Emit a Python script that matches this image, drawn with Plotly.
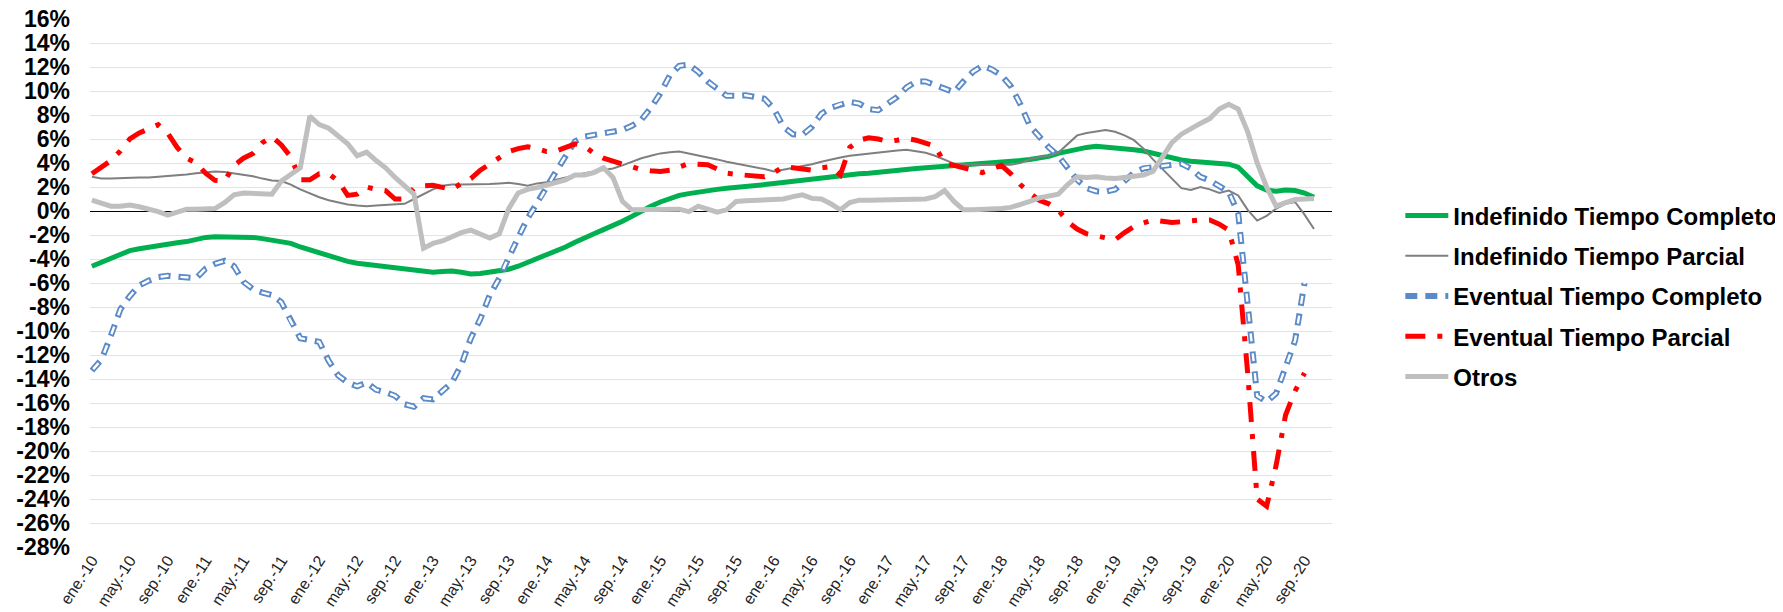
import plotly.graph_objects as go

MESES = ["ene.", "feb.", "mar.", "abr.", "may.", "jun.", "jul.", "ago.", "sep.", "oct.", "nov.", "dic."]
ANIOS = ["10", "11", "12", "13", "14", "15", "16", "17", "18", "19", "20"]
categorias = [f"{m}-{a}" for a in ANIOS for m in MESES][:130]
etiquetas_x = categorias[::4]

y_ticks = [-28, -26, -24, -22, -20, -18, -16, -14, -12, -10, -8, -6, -4, -2, 0, 2, 4, 6, 8, 10, 12, 14, 16]
y_text = ["-28%", "-26%", "-24%", "-22%", "-20%", "-18%", "-16%", "-14%", "-12%", "-10%", "-8%", "-6%",
          "-4%", "-2%", "0%", "2%", "4%", "6%", "8%", "10%", "12%", "14%", "16%"]

indef_completo = [
    -4.6, -4.3, -3.9, -3.6, -3.3, -3.15, -3.0, -2.9, -2.75, -2.65,
    -2.55, -2.35, -2.2, -2.15, -2.15, -2.2, -2.2, -2.2, -2.3, -2.4,
    -2.5, -2.7, -3.0, -3.25, -3.5, -3.8, -4.05, -4.2, -4.35, -4.45,
    -4.6, -4.7, -4.8, -4.9, -5.0, -5.05, -5.1, -5.05, -5.0, -5.1,
    -5.25, -5.2, -5.1, -5.0, -4.85, -4.6, -4.3, -4.0, -3.7, -3.35,
    -3.0, -2.6, -2.2, -1.9, -1.55, -1.25, -0.85, -0.45, 0.0, 0.4,
    0.75, 1.05, 1.3, 1.45, 1.6, 1.7, 1.8, 1.9, 1.95, 2.0,
    2.1, 2.2, 2.3, 2.4, 2.45, 2.55, 2.65, 2.75, 2.85, 2.95,
    3.0, 3.1, 3.15, 3.25, 3.35, 3.45, 3.5, 3.55, 3.6, 3.65,
    3.7, 3.75, 3.8, 3.85, 3.9, 4.0, 4.05, 4.1, 4.2, 4.3,
    4.4, 4.55, 4.8, 5.0, 5.2, 5.3, 5.4, 5.35, 5.25, 5.15,
    5.1, 5.0, 4.8, 4.6, 4.4, 4.25, 4.15, 4.1, 4.0, 3.95,
    3.9, 3.65, 2.9, 2.1, 1.75, 1.65, 1.75, 1.7, 1.5, 1.15,
]

indef_parcial = [
    2.85, 2.7, 2.7, 2.75, 2.8, 2.8, 2.8, 2.85, 2.95, 3.0,
    3.05, 3.15, 3.25, 3.3, 3.25, 3.15, 3.05, 2.9, 2.7, 2.55,
    2.5, 2.2, 1.8, 1.45, 1.15, 0.9, 0.7, 0.55, 0.45, 0.4,
    0.45, 0.5, 0.55, 0.6, 1.0, 1.4, 1.8, 2.1, 2.2, 2.2,
    2.2, 2.2, 2.25, 2.3, 2.35, 2.25, 2.1, 2.3, 2.4, 2.6,
    2.8, 3.0, 3.15, 3.3, 3.4, 3.55, 3.8, 4.1, 4.4, 4.6,
    4.8, 4.9, 4.95, 4.8, 4.65, 4.5, 4.3, 4.1, 3.95, 3.85,
    3.7, 3.5, 3.3, 3.45, 3.55, 3.7, 3.9, 4.1, 4.3, 4.45,
    4.6, 4.7, 4.8, 4.9, 4.95, 5.05, 5.1, 5.0, 4.85, 4.6,
    4.25, 3.95, 3.9, 3.85, 3.85, 3.85, 3.85, 3.85, 4.0, 4.3,
    4.5, 4.6, 4.85, 5.6, 6.3, 6.5, 6.65, 6.75, 6.6, 6.3,
    5.9, 5.2, 4.3, 3.5, 2.7, 1.9, 1.75, 2.0, 1.8, 1.5,
    1.7, 1.3, 0.1, -0.8, -0.4, 0.2, 0.6, 0.75, -0.3, -1.5,
]

event_completo = [
    -13.3, -12.4, -10.4, -8.2, -7.1, -6.2, -5.8, -5.5, -5.4, -5.45,
    -5.5, -5.6, -4.8, -4.4, -4.15, -4.6, -5.9, -6.5, -6.8, -7.0,
    -7.6, -9.2, -10.6, -10.75, -10.9, -12.5, -13.7, -14.3, -14.6, -14.3,
    -14.9, -15.1, -15.4, -16.1, -16.3, -15.6, -15.7, -15.0, -14.3, -12.8,
    -10.6, -9.0, -7.0, -5.6, -3.8, -2.2, -0.6, 0.6, 2.0, 3.3,
    4.6, 5.8, 6.2, 6.35, 6.5, 6.6, 6.75, 7.1, 7.6, 8.6,
    9.8, 11.3, 12.1, 12.2, 11.6, 10.8, 10.2, 9.6, 9.6, 9.65,
    9.5, 9.35, 8.5, 7.0, 6.4, 6.35, 7.0, 8.1, 8.6, 8.9,
    9.1, 8.95, 8.5, 8.4, 9.0, 9.5, 10.3, 10.8, 10.8, 10.5,
    10.2, 9.9, 10.8, 11.6, 12.1, 11.8, 11.3, 10.4, 8.9, 7.1,
    6.2, 5.3, 4.6, 3.6, 2.6, 1.9, 1.65, 1.6, 1.8, 2.5,
    3.2, 3.55, 3.7, 3.75, 3.85, 3.95, 3.55, 2.85, 2.55, 2.1,
    1.6, -0.2, -8.0, -15.4, -15.9, -15.2, -13.0, -10.8, -6.0,
]

event_parcial = [
    3.1, 3.6, 4.2, 5.0, 6.0, 6.5, 6.9, 7.2, 6.5, 5.3,
    4.4, 4.0, 3.15, 2.55, 2.5, 3.8, 4.4, 4.8, 5.7, 6.2,
    5.5, 4.5, 2.6, 2.6, 3.1, 3.1, 2.5, 1.3, 1.4, 2.0,
    1.8, 1.7, 1.0, 1.0, 1.9, 2.1, 2.15, 2.0, 1.8, 2.3,
    2.7, 3.4, 3.95, 4.5, 4.95, 5.2, 5.35, 5.2, 4.95, 5.0,
    5.35, 5.6, 5.4, 4.8, 4.4, 4.1, 3.9, 3.7, 3.45, 3.35,
    3.3, 3.4, 3.7, 3.95, 3.9, 3.85, 3.5, 3.15, 3.05, 3.0,
    2.95, 2.85, 3.2, 3.7, 3.6, 3.45, 3.4, 3.6, 3.7, 3.0,
    5.3, 5.9, 6.1, 6.0, 5.8, 5.9, 6.05, 5.9, 5.7, 5.4,
    4.0, 3.8, 3.7, 3.5, 3.2, 3.5, 3.8, 3.1, 2.2, 1.5,
    0.9, 0.6, 0.1, -0.9, -1.5, -1.9, -2.1, -2.3, -2.4, -1.8,
    -1.3, -1.0, -0.75, -0.85, -0.95, -0.9, -0.8, -0.75, -0.75, -1.1,
    -1.6, -4.5, -13.5, -24.0, -24.6, -21.2, -17.0, -15.0, -13.5,
]

otros = [
    0.9, 0.65, 0.4, 0.4, 0.5, 0.35, 0.2, -0.05, -0.35, -0.1,
    0.15, 0.15, 0.15, 0.2, 0.7, 1.35, 1.5, 1.45, 1.45, 1.4,
    2.5, 3.1, 3.6, 7.9, 7.2, 6.9, 6.3, 5.6, 4.6, 4.9,
    4.2, 3.6, 2.8, 2.1, 1.4, -3.1, -2.7, -2.5, -2.1, -1.8,
    -1.6, -1.9, -2.25, -1.9, 0.2, 1.5, 1.8, 1.95, 2.2, 2.4,
    2.6, 3.0, 3.0, 3.2, 3.6, 2.8, 0.8, 0.1, 0.1, 0.1,
    0.1, 0.15, 0.15, -0.05, 0.4, 0.15, -0.1, 0.1, 0.8, 0.85,
    0.9, 0.9, 0.9, 1.0, 1.2, 1.35, 1.05, 1.0, 0.6, 0.1,
    0.7, 0.9, 0.9, 0.9, 0.9, 0.9, 0.9, 0.9, 1.0, 1.2,
    1.7, 0.8, 0.1, 0.1, 0.1, 0.1, 0.2, 0.3, 0.5, 0.8,
    1.1, 1.2, 1.4, 2.2, 2.85, 2.8, 2.85, 2.75, 2.7, 2.8,
    2.85, 3.0, 3.3, 4.6, 5.7, 6.4, 6.9, 7.3, 7.7, 8.5,
    8.9, 8.5, 6.6, 4.0, 2.0, 0.4, 0.7, 0.95, 1.0, 1.05,
]

FONT = "Liberation Sans, Arial, sans-serif"

fig = go.Figure()

fig.add_trace(go.Scatter(
    x=categorias[:len(indef_completo)], y=indef_completo, mode="lines",
    name="Indefinido Tiempo Completo", legendgroup="a",
    line=dict(color="#00B050", width=5),
))
fig.add_trace(go.Scatter(
    x=categorias[:len(indef_parcial)], y=indef_parcial, mode="lines",
    name="Indefinido Tiempo Parcial", legendgroup="b",
    line=dict(color="#7F7F7F", width=2),
))
fig.add_trace(go.Scatter(
    x=categorias[:len(event_completo)], y=event_completo, mode="lines",
    name="Eventual Tiempo Completo", legendgroup="c",
    line=dict(color="#5B8AC8", width=6, dash="12px,8px"),
))
fig.add_trace(go.Scatter(
    x=categorias[:len(event_completo)], y=event_completo, mode="lines",
    name="Eventual Tiempo Completo", legendgroup="c", showlegend=False, hoverinfo="skip",
    line=dict(color="white", width=2.4, dash="0px,2px,8px,10px"),
))
fig.add_trace(go.Scatter(
    x=categorias[:len(event_parcial)], y=event_parcial, mode="lines",
    name="Eventual Tiempo Parcial", legendgroup="d",
    line=dict(color="#FF0000", width=5, dash="20px,12px,5px,12px"),
))
fig.add_trace(go.Scatter(
    x=categorias[:len(otros)], y=otros, mode="lines",
    name="Otros", legendgroup="e",
    line=dict(color="#BFBFBF", width=5),
))

# The page body keeps an 8px margin, so the figure is sized to fill the window from (8, 8).
fig.update_layout(
    width=1775, height=604,
    margin=dict(l=82, r=451, t=11, b=65, autoexpand=False),
    paper_bgcolor="white", plot_bgcolor="white",
    font=dict(family=FONT, color="black"),
    showlegend=True,
    legend=dict(
        x=1.055, y=0.6695, xanchor="left", yanchor="top",
        font=dict(family=FONT, size=24, color="black", weight="bold"),
        itemwidth=43, tracegroupgap=6,
        bgcolor="rgba(0,0,0,0)",
    ),
    xaxis=dict(
        type="category", range=[-0.2, 130.9], automargin=False,
        tickmode="array", tickvals=etiquetas_x,
        tickangle=-57, tickfont=dict(family=FONT, size=16, color="#222222"),
        showgrid=False, showline=False, zeroline=False, ticks="",
    ),
    yaxis=dict(
        range=[-28, 16], tickmode="array", tickvals=y_ticks, ticktext=y_text, automargin=False,
        tickfont=dict(family=FONT, size=23, color="black", weight="bold"),
        ticklabeloverflow="allow",
        showgrid=True, gridcolor="#E3E3E3", gridwidth=1,
        zeroline=True, zerolinecolor="black", zerolinewidth=1.2,
        showline=False, ticks="", ticklabelstandoff=19,
    ),
)

fig.write_html("out.html")
